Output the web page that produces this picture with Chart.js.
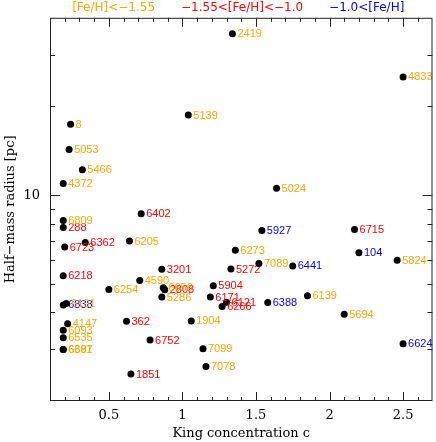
<!DOCTYPE html>
<html>
<head>
<meta charset="utf-8">
<script src="https://cdn.jsdelivr.net/npm/chart.js@4/dist/chart.umd.min.js"></script>
<style>
  html, body { margin: 0; padding: 0; background: #fff; }
</style>
</head>
<body>
<canvas id="chart" width="436" height="442"></canvas>
<script>
// cluster data: NGC number, King concentration, half-mass radius (pc), metallicity group
const names = ["2419", "8", "5139", "5053", "4833", "5466", "4372", "6809", "6205", "6273",
               "5024", "5824", "7089", "4590", "6254", "6656", "5286", "6139", "5694", "7099",
               "7078", "1904", "6101", "4147", "6093", "6535", "6397", "6681",
               "6402", "288", "6362", "6723", "3201", "5272", "6715", "6218", "2808", "5904",
               "6171", "6121", "6266", "362", "6752", "1851",
               "5927", "104", "6441", "6388", "6624", "6838"];
const conc = [1.34, 0.24, 1.04, 0.23, 2.50, 0.32, 0.19, 0.19, 0.64, 1.36,
              1.64, 2.46, 1.52, 0.71, 0.50, 0.87, 0.86, 1.85, 2.10, 1.14,
              1.16, 1.06, 0.21, 0.22, 0.19, 0.19, 0.19, 0.19,
              0.72, 0.19, 0.34, 0.20, 0.86, 1.33, 2.17, 0.19, 0.88, 1.21,
              1.19, 1.30, 1.27, 0.62, 0.78, 0.65,
              1.54, 2.20, 1.75, 1.58, 2.50, 0.19];
const rhalf = [35.3, 17.4, 18.7, 14.3, 25.2, 12.2, 10.96, 8.20, 6.98, 6.50,
               10.56, 6.01, 5.86, 5.13, 4.78, 4.85, 4.51, 4.55, 3.94, 3.01,
               2.62, 3.74, 4.29, 3.66, 3.48, 3.28, 2.99, 2.99,
               8.64, 7.76, 6.90, 6.66, 5.60, 5.61, 7.64, 5.32, 4.77, 4.92,
               4.51, 4.33, 4.19, 3.73, 3.22, 2.47,
               7.58, 6.37, 5.75, 4.32, 3.13, 4.24];
const metalGroup = [0, 0, 0, 0, 0, 0, 0, 0, 0, 0,
                    0, 0, 0, 0, 0, 0, 0, 0, 0, 0,
                    0, 0, 0, 0, 0, 0, 0, 0,
                    1, 1, 1, 1, 1, 1, 1, 1, 1, 1,
                    1, 1, 1, 1, 1, 1,
                    2, 2, 2, 2, 2, 2];
const groupLabels = ["[Fe/H]<\u22121.55", "\u22121.55<[Fe/H]<\u22121.0", "\u22121.0<[Fe/H]"];
const groupColors = ["#ffa500", "#ff0000", "#0000ff"];

const xMajor = [0.5, 1, 1.5, 2, 2.5];
const yMajor = [10];
const yMinor = [3, 4, 5, 6, 7, 8, 9, 20, 30];

const xMinor = [];
for (let i = 2; i <= 26; i++) xMinor.push(i / 10);

const datasets = groupLabels.map((lab, g) => {
    const pts = [];
    const lbls = [];
    for (let i = 0; i < names.length; i++) {
        if (metalGroup[i] !== g) continue;
        pts.push({x: conc[i], y: rhalf[i]});
        lbls.push(names[i]);
    }
    return {
        label: lab,
        data: pts,
        names: lbls,
        textColor: groupColors[g],
        backgroundColor: "#000",
        borderWidth: 0,
        pointRadius: 3.5,
        pointHoverRadius: 3.5
    };
});

// names next to each point, drawn right after that dataset's points
const pointNames = {
    id: "pointNames",
    afterDatasetDraw(chart, args) {
        const ctx = chart.ctx;
        const ds = chart.data.datasets[args.index];
        const meta = args.meta;
        ctx.save();
        ctx.font = "11px 'Liberation Sans', Arial, sans-serif";
        ctx.fillStyle = ds.textColor;
        ctx.textBaseline = "middle";
        ctx.textAlign = "left";
        meta.data.forEach((el, i) => {
            ctx.fillText(ds.names[i], el.x + 5, el.y + 0.5);
        });
        ctx.restore();
    }
};

// inward tick marks on all four sides, frame, and the coloured header
const frame = {
    id: "frame",
    afterDraw(chart) {
        const ctx = chart.ctx;
        const xs = chart.scales.x;
        const ys = chart.scales.y;
        const {left, right, top, bottom} = chart.chartArea;
        ctx.save();
        ctx.strokeStyle = "#222";
        ctx.lineWidth = 1;
        ctx.strokeRect(left + 0.5, top + 0.5, right - left - 1, bottom - top - 1);

        function vtick(v, len) {
            const px = Math.round(xs.getPixelForValue(v)) + 0.5;
            ctx.moveTo(px, bottom); ctx.lineTo(px, bottom - len);
            ctx.moveTo(px, top); ctx.lineTo(px, top + len);
        }
        function htick(v, len) {
            const py = Math.round(ys.getPixelForValue(v)) + 0.5;
            ctx.moveTo(left, py); ctx.lineTo(left + len, py);
            ctx.moveTo(right, py); ctx.lineTo(right - len, py);
        }
        ctx.beginPath();
        xMinor.forEach(v => vtick(v, xMajor.includes(v) ? 9 : 4));
        yMinor.forEach(v => htick(v, 5));
        yMajor.forEach(v => htick(v, 10));
        ctx.stroke();

        // header
        ctx.font = "12px 'DejaVu Sans', sans-serif";
        ctx.textBaseline = "middle";
        ctx.textAlign = "left";
        const gap = 26;
        const widths = groupLabels.map(t => ctx.measureText(t).width);
        const total = widths.reduce((a, b) => a + b, 0) + gap * (groupLabels.length - 1);
        let x = (left + right) / 2 - 3 - total / 2;
        groupLabels.forEach((t, g) => {
            ctx.fillStyle = groupColors[g];
            ctx.fillText(t, x, 8);
            x += widths[g] + gap;
        });
        ctx.restore();
    }
};

const serif = "'DejaVu Serif', serif";

new Chart(document.getElementById("chart"), {
    type: "scatter",
    data: { datasets: datasets },
    plugins: [pointNames, frame],
    options: {
        responsive: false,
        animation: false,
        devicePixelRatio: 1,
        layout: { padding: { top: 17, right: 2, left: 0, bottom: 0 } },
        plugins: {
            legend: { display: false },
            tooltip: { enabled: false }
        },
        scales: {
            x: {
                type: "linear",
                min: 0.1,
                max: 2.7,
                grid: { display: false, drawTicks: false },
                border: { display: false },
                afterBuildTicks: s => { s.ticks = xMajor.map(v => ({value: v})); },
                afterFit: s => { s.height = 41; },
                ticks: {
                    color: "#000",
                    padding: 7,
                    maxRotation: 0,
                    font: { family: serif, size: 13 },
                    callback: v => String(v)
                },
                title: {
                    display: true,
                    text: "King concentration c",
                    color: "#000",
                    font: { family: serif, size: 13 },
                    padding: { top: 0, bottom: 1 }
                }
            },
            y: {
                type: "logarithmic",
                min: 2,
                max: 40,
                grid: { display: false, drawTicks: false },
                border: { display: false },
                afterBuildTicks: s => { s.ticks = yMajor.map(v => ({value: v})); },
                afterFit: s => { s.width = 50; },
                ticks: {
                    color: "#000",
                    padding: 10,
                    font: { family: serif, size: 13 },
                    callback: v => String(v)
                },
                title: {
                    display: true,
                    text: "Half\u2212mass radius [pc]",
                    color: "#000",
                    font: { family: serif, size: 13 },
                    padding: { top: 3, bottom: 0 }
                }
            }
        }
    }
});
</script>
</body>
</html>
